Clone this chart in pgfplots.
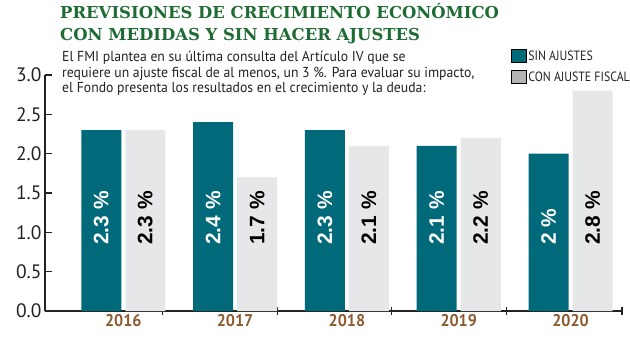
\documentclass[border=0pt]{standalone}
\usepackage{fontspec}
\usepackage{pgfplots}
\pgfplotsset{compat=1.18}
\usepackage{pgfplotstable}
\setmainfont{PT Sans}
\newfontfamily\cond[FakeStretch=0.95]{PT Sans}
\newfontfamily\legfont[FakeStretch=0.88]{PT Sans}
\newfontfamily\titlefont{DejaVu Serif}
\newfontfamily\lblfont{Liberation Sans}
\definecolor{teal1}{HTML}{006A7A}
\definecolor{gray1}{HTML}{E6E7E9}
\definecolor{gray2}{HTML}{B3B3B3}
\definecolor{brown1}{HTML}{8C5A2E}
\definecolor{green1}{HTML}{1E6B34}
\definecolor{axcol}{HTML}{222222}

\pgfplotstableread{
x sin con
0 2.3 2.3
1 2.4 1.7
2 2.3 2.1
3 2.1 2.2
4 2.0 2.8
}\datatable

\pgfplotstableread{
x y lab
0 0.839 {2.3 \%}
1 0.839 {2.4 \%}
2 0.839 {2.3 \%}
3 0.839 {2.1 \%}
4 0.839 {2 \%}
}\labsin

\pgfplotstableread{
x y lab
0 0.839 {2.3 \%}
1 0.839 {1.7 \%}
2 0.839 {2.1 \%}
3 0.839 {2.2 \%}
4 0.839 {2.8 \%}
}\labcon

\begin{document}
\begin{tikzpicture}
\path[use as bounding box] (0,0) rectangle (630bp,343bp);
\node[anchor=base west, inner sep=0pt, text=green1, font=\titlefont\bfseries\fontsize{16.5}{18}\selectfont] at (60bp,324bp) {PREVISIONES DE CRECIMIENTO ECONÓMICO};
\node[anchor=base west, inner sep=0pt, text=green1, font=\titlefont\bfseries\fontsize{16.5}{18}\selectfont] at (60bp,302bp) {CON MEDIDAS Y SIN HACER AJUSTES};
\node[anchor=base west, inner sep=0pt, text=axcol, font=\cond\fontsize{14.5}{15}\selectfont] at (62bp,281bp) {El FMI plantea en su última consulta del Artículo IV que se};
\node[anchor=base west, inner sep=0pt, text=axcol, font=\cond\fontsize{14.5}{15}\selectfont] at (62bp,265.5bp) {requiere un ajuste fiscal de al menos, un 3 \%. Para evaluar su impacto,};
\node[anchor=base west, inner sep=0pt, text=axcol, font=\cond\fontsize{14.5}{15}\selectfont] at (62bp,250bp) {el Fondo presenta los resultados en el crecimiento y la deuda:};
\begin{axis}[
  at={(45bp,32bp)}, anchor=south west,
  scale only axis, width=577bp, height=236bp,
  xmin=-0.7, xmax=4.46, ymin=0, ymax=3,
  axis x line*=bottom, axis y line*=left,
  axis line style={line width=1.3bp, draw=axcol},
  ytick={0,0.5,1,1.5,2,2.5,3},
  yticklabel style={font=\fontsize{19.5}{20}\selectfont, text=axcol},
  yticklabel style={/pgf/number format/.cd, fixed, fixed zerofill, precision=1, assume math mode=true},
  ytick style={line width=1.3bp, draw=axcol},
  ytick align=inside, xtick align=center,
  major tick length=7bp,
  xtick={0.35,1.38,2.4,3.43,4.46},
  xticklabels={},
  xtick style={line width=1.1bp, draw=axcol},
  extra x ticks={0,1,2,3,4},
  extra x tick labels={2016,2017,2018,2019,2020},
  extra x tick style={major tick length=0pt, tick style={draw=none}},
  xticklabel style={font=\cond\bfseries\fontsize{17}{18}\selectfont, text=brown1},
  legend style={at={(0.8076,1.112)}, anchor=north west, draw=none, fill=none,
     inner sep=0pt, outer sep=0pt, row sep=6bp,
     font=\legfont\fontsize{13.5}{14}\selectfont, text=axcol,
     /tikz/every even column/.append style={column sep=3bp}},
  legend cell align=left,
  legend image code/.code={\fill[#1] (0bp,-6.5bp) rectangle (15bp,6.5bp);},
  clip=false,
]
\addplot[ybar, bar width=40bp, bar shift=-22bp, fill=teal1, draw=none, forget plot] table[x=x, y=sin] {\datatable};
\addplot[ybar, bar width=40bp, bar shift=22bp, fill=gray1, draw=none, forget plot] table[x=x, y=con] {\datatable};
\addplot[draw=none, mark=none, forget plot,
  nodes near coords, point meta=explicit symbolic,
  every node near coord/.style={xshift=-22bp, rotate=90, anchor=west, inner sep=0pt, text=white, font=\lblfont\bfseries\fontsize{21}{22}\selectfont}]
  table[x=x, y=y, meta=lab] {\labsin};
\addplot[draw=none, mark=none, forget plot,
  nodes near coords, point meta=explicit symbolic,
  every node near coord/.style={xshift=22bp, rotate=90, anchor=west, inner sep=0pt, text=black, font=\lblfont\bfseries\fontsize{21}{22}\selectfont}]
  table[x=x, y=y, meta=lab] {\labcon};
\addlegendimage{fill=teal1}
\addlegendentry{SIN AJUSTES}
\addlegendimage{fill=gray2}
\addlegendentry{CON AJUSTE FISCAL}
\end{axis}
\end{tikzpicture}
\end{document}
